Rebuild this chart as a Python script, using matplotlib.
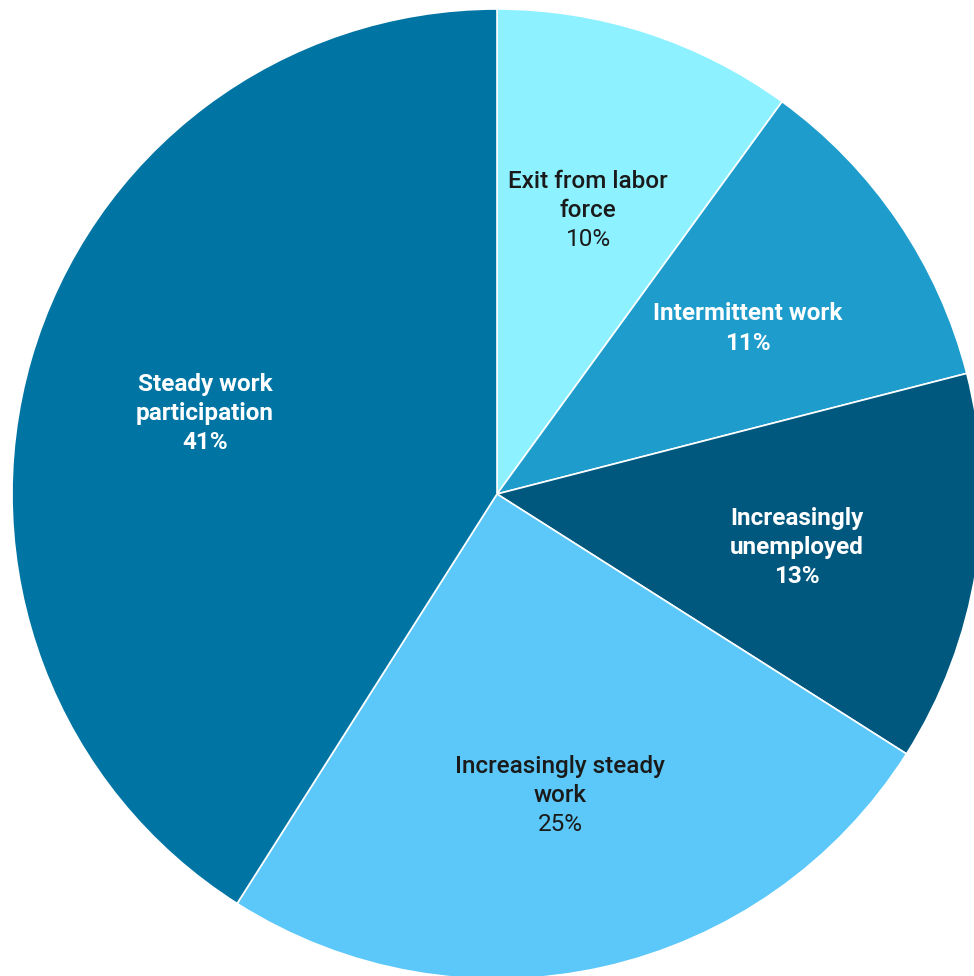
import matplotlib
matplotlib.use("Agg")
import matplotlib.pyplot as plt

# data
categories = ["Exit from labor\nforce", "Intermittent work", "Increasingly\nunemployed",
              "Increasingly steady\nwork", "Steady work\nparticipation"]
shares = [10, 11, 13, 25, 41]
colors = ["#8ef1ff", "#1e9dcc", "#00587e", "#5bc8f9", "#0075a4"]
text_colors = ["#1a1a1a", "white", "white", "#1a1a1a", "white"]

# label block centres in pixel coords (layout only)
label_pos = [(588, 976 - 208), (748, 976 - 326), (797, 976 - 545),
             (560, 976 - 793), (205, 976 - 411)]
LINE_STEP = 29

plt.rcParams['font.family'] = ['Roboto', 'DejaVu Sans']

fig = plt.figure(figsize=(9.74, 9.76), dpi=100)
ax = fig.add_axes([0, 0, 1, 1])

ax.pie(shares, colors=colors, startangle=90, counterclock=False,
       center=(497, 976 - 494), radius=485,
       wedgeprops=dict(edgecolor='white', linewidth=1.2))

for name, val, (x, y), tc in zip(categories, shares, label_pos, text_colors):
    dark = tc != 'white'
    lines = name.split('\n') + [f"{val}%"]
    top = y + LINE_STEP * (len(lines) - 1) / 2.0
    for i, line in enumerate(lines):
        is_pct = i == len(lines) - 1
        if dark:
            weight = 'normal' if is_pct else 'medium'
        else:
            weight = 'bold'
        ax.text(x, top - i * LINE_STEP, line, ha='center', va='center_baseline',
                fontsize=17.5, color=tc, fontweight=weight)

ax.set_xlim(0, 974)
ax.set_ylim(0, 976)
ax.set_aspect('equal')
ax.axis('off')

fig.savefig("out.png", dpi=100, facecolor='white')
